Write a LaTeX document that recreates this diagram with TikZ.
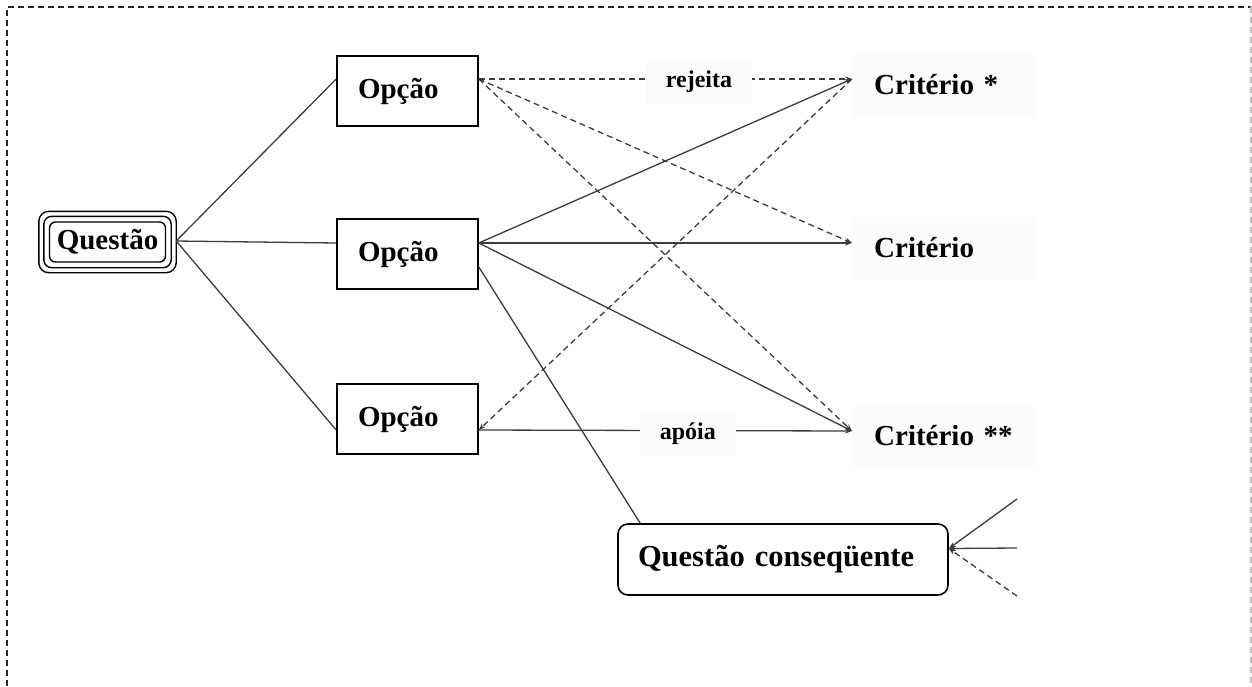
\documentclass[tikz,border=0pt]{standalone}
\usepackage{fontspec}
\setmainfont{Liberation Serif}
\usetikzlibrary{arrows.meta,calc}
\definecolor{linegray}{RGB}{60,60,60}
\definecolor{paper}{RGB}{252,252,252}
\begin{document}
\begin{tikzpicture}[x=1pt,y=-1pt,
  mainfont/.style={font=\fontsize{29}{34}\selectfont\bfseries},
  optbox/.style={mainfont,draw=black,line width=1.6pt,fill=white,
    text width=99pt,align=left,inner xsep=21pt,inner ysep=0pt,minimum height=70pt},
  critnode/.style={mainfont,anchor=west,fill=paper,text width=140pt,
    align=left,inner xsep=22pt,minimum height=63pt},
  edgelabel/.style={font=\fontsize{24}{28}\selectfont\bfseries,fill=paper,
    inner xsep=20pt,minimum height=46pt},
  conn/.style={draw=linegray,line width=1.3pt},
  tip/.style={-{Stealth[length=7pt,width=5pt]}},
  dashline/.style={dash pattern=on 6pt off 4pt},
  frame/.style={draw=black!85,line width=1.3pt,dash pattern=on 6pt off 4pt}
]
\useasboundingbox (0,0) rectangle (1252,686);

% outer dashed frame
\draw[frame] (7,686) -- (7,7) -- (1251,7);
\draw[frame,draw=black!25] (1251,7) -- (1251,686);

% main question, three concentric outlines
\node[mainfont,draw=black,line width=1.4pt,rounded corners=6pt,
  minimum width=116pt,minimum height=40pt,inner sep=0pt] (q) at (107.5,242) {Questão};
\draw[line width=1.4pt,rounded corners=8pt]
  ($(q.north west)+(-5,-5)$) rectangle ($(q.south east)+(5,5)$);
\draw[line width=1.4pt,rounded corners=10pt]
  ($(q.north west)+(-10,-10)$) rectangle ($(q.south east)+(10,10)$);

% options
\node[optbox] (o1) at (407.5,91) {Opção};
\node[optbox] (o2) at (407.5,254) {Opção};
\node[optbox] (o3) at (407.5,419) {Opção};

% criteria
\node[critnode] (c1) at (852,85) {Critério *};
\node[critnode] (c2) at (852,248) {Critério};
\node[critnode] (c3) at (852,436) {Critério **};

% consequent question
\node[mainfont,font=\fontsize{30.5}{34}\selectfont\bfseries,draw=black,line width=1.6pt,
  rounded corners=10pt,fill=white,text width=290pt,align=left,inner xsep=20pt,
  inner ysep=0pt,minimum height=71pt] (qc) at (783,559.5) {Questão conseqüente};

% loose ends entering the consequent question
\coordinate (r1) at (1017,499);
\coordinate (r2) at (1017,548);
\coordinate (r3) at (1017,596);

% question to options
\draw[conn] ([xshift=10pt,yshift=1pt]q.east) -- ([yshift=12pt]o1.west);
\draw[conn] ([xshift=10pt,yshift=1pt]q.east) -- ([yshift=11pt]o2.west);
\draw[conn] ([xshift=10pt,yshift=1pt]q.east) -- ([yshift=-11pt]o3.west);

% supporting links (solid)
\draw[conn,tip] ([yshift=11pt]o2.east) -- ([yshift=6pt]c1.west);
\draw[conn,tip] ([yshift=11pt]o2.east) -- ([yshift=5pt]c2.west);
\draw[conn,tip] ([yshift=11pt]o2.east) -- ([yshift=5pt]c3.west);
\draw[conn,tip] ([yshift=-11pt]o3.east) -- ([yshift=5pt]c3.west)
  node[edgelabel,pos=0.56,yshift=-3pt] (lab2) {apóia};

% rejecting links (dashed)
\draw[conn,dashline,tip] ([yshift=12pt]o1.east) -- ([yshift=6pt]c1.west)
  node[edgelabel,pos=0.59,yshift=-3pt] (lab1) {rejeita};
\draw[conn,dashline,tip] ([yshift=12pt]o1.east) -- ([yshift=5pt]c2.west);
\draw[conn,dashline,tip] ([yshift=12pt]o1.east) -- ([yshift=5pt]c3.west);
\draw[conn,dashline,tip] ([yshift=6pt]c1.west) -- ([yshift=-11pt]o3.east);

% option to consequent question
\draw[conn] ([yshift=-13pt]o2.east) -- ([xshift=23pt]qc.north west);
\draw[conn,tip] (r1) -- ([yshift=11pt]qc.east);
\draw[conn,tip] (r2) -- ([yshift=11pt]qc.east);
\draw[conn,dashline,tip] (r3) -- ([yshift=11pt]qc.east);
\end{tikzpicture}
\end{document}
